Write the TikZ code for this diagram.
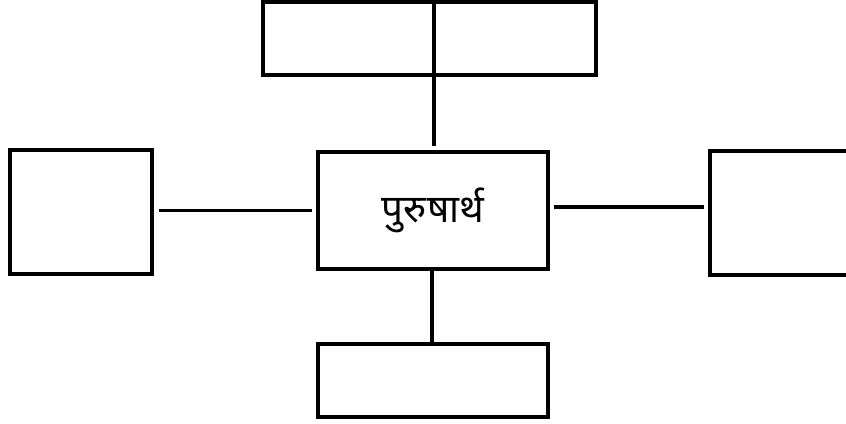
\documentclass[tikz,border=0pt]{standalone}
\usepackage{fontspec}
\newfontfamily\devfont[Script=Devanagari]{Noto Sans}
\usetikzlibrary{positioning}

\begin{document}
\begin{tikzpicture}[x=0.02cm, y=-0.02cm,
  box/.style={draw, line width=2pt, inner sep=0pt},
  link/.style={line width=2pt}]
\useasboundingbox (0,0) rectangle (846,423);
% centre box and the four boxes round it
\node[box, minimum width=4.6cm, minimum height=2.34cm, font=\devfont\fontsize{22}{26}\selectfont] (ctr) at (433,210.5) {पुरुषार्थ};
\node[box, minimum width=6.66cm, minimum height=1.46cm] (top) at (429.5,38.5) {};
\node[box, minimum width=2.84cm, minimum height=2.48cm] (lft) at (81,212) {};
\node[box, minimum width=3.2cm, minimum height=2.48cm] (rgt) at (790,213) {};
\node[box, minimum width=4.6cm, minimum height=1.46cm] (bot) at (433,380.5) {};
% links
\draw[link, shorten >=0.08cm] ([xshift=0.02cm]top.north -| ctr.north) -- ([xshift=0.02cm]ctr.north);
\draw[link, shorten <=0.08cm, shorten >=0.1cm] (ctr.west) -- (ctr.west -| lft.east);
\draw[link, shorten <=0.08cm, shorten >=0.08cm] ([yshift=0.07cm]ctr.east) -- ([yshift=0.07cm]ctr.east -| rgt.west);
\draw[link] ([xshift=-0.02cm]ctr.south) -- ([xshift=-0.02cm,yshift=-0.06cm]bot.north);
\end{tikzpicture}
\end{document}
